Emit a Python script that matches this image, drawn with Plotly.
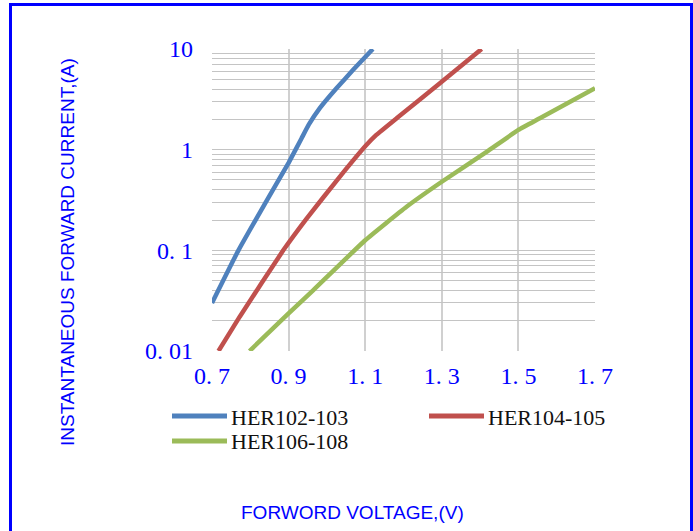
import plotly.graph_objects as go

# ---- data ----
series_names = ["HER102-103", "HER104-105", "HER106-108"]
her102_v = [0.700, 0.769, 0.838, 0.900, 0.934, 0.953, 0.981, 1.025, 1.068, 1.120]
her102_i = [0.030, 0.100, 0.290, 0.740, 1.300, 1.780, 2.570, 4.070, 6.180, 10.0]
her104_v = [0.717, 0.772, 0.886, 0.947, 1.034, 1.103, 1.129, 1.182, 1.295, 1.404]
her104_i = [0.010, 0.0218, 0.100, 0.207, 0.540, 1.110, 1.400, 2.050, 4.560, 10.0]
her106_v = [0.798, 0.900, 0.964, 1.100, 1.208, 1.300, 1.417, 1.500, 1.556, 1.700]
her106_i = [0.010, 0.0236, 0.040, 0.126, 0.271, 0.480, 0.950, 1.570, 2.050, 4.070]

x_ticks = [0.7, 0.9, 1.1, 1.3, 1.5, 1.7]
x_labels = ["0. 7", "0. 9", "1. 1", "1. 3", "1. 5", "1. 7"]
y_decades = [0.01, 0.1, 1, 10]
y_labels = ["0. 01", "0. 1", "1", "10"]
x_title = "FORWORD VOLTAGE,(V)"
y_title = "INSTANTANEOUS FORWARD CURRENT,(A)"

colors = ["#4f81bd", "#c0504d", "#9bbb59"]

# ---- layout geometry (pixels) ----
W, H = 693, 531
PL, PR, PT, PB = 212, 595, 49, 351


def fx(px):
    return (px - PL) / (PR - PL)


def fy(py):
    return (PB - py) / (PB - PT)


# all gridline positions on the log axis (1..9 per decade)
y_grid = []
y_grid_text = []
for d in y_decades[:-1]:
    for m in range(1, 10):
        y_grid.append(round(d * m, 6))
        y_grid_text.append(y_labels[y_decades.index(d)] if m == 1 else "")
y_grid.append(y_decades[-1])
y_grid_text.append(y_labels[-1])

fig = go.Figure()
for name, xs, ys, c in zip(series_names,
                           [her102_v, her104_v, her106_v],
                           [her102_i, her104_i, her106_i], colors):
    fig.add_trace(go.Scatter(x=xs, y=ys, mode="lines", name=name,
                             line=dict(color=c, width=4.5, shape="spline", smoothing=0.35),
                             showlegend=False))

SERIF = "'Liberation Serif', 'DejaVu Serif', serif"
tick_font = dict(family=SERIF, size=24, color="#0000ff")
fig.update_xaxes(range=[0.7, 1.7], tickvals=x_ticks, ticktext=x_labels,
                 showgrid=True, gridcolor="#d0d0d0", gridwidth=1.5,
                 zeroline=False, showline=False, ticks="",
                 tickfont=tick_font, ticklabelstandoff=8)
fig.update_yaxes(type="log", range=[-2, 1], tickvals=y_grid, ticktext=y_grid_text,
                 showgrid=True, gridcolor="#c4c4c4", gridwidth=1.2,
                 zeroline=False, showline=False, ticks="",
                 tickfont=tick_font, ticklabelstandoff=18)

shapes = []
annotations = []
# outer blue frame
shapes.append(dict(type="rect", xref="paper", yref="paper",
                   x0=fx(10.5), x1=fx(691.5), y0=fy(545), y1=fy(4.5),
                   line=dict(color="#0000ff", width=3), fillcolor="rgba(0,0,0,0)", layer="above"))

# manual legend
leg_pos = [(172, 227, 416), (429, 484, 416), (172, 227, 441)]
for (x0, x1, yy), name, c in zip(leg_pos, series_names, colors):
    shapes.append(dict(type="line", xref="paper", yref="paper",
                       x0=fx(x0), x1=fx(x1), y0=fy(yy), y1=fy(yy),
                       line=dict(color=c, width=5)))
    annotations.append(dict(xref="paper", yref="paper", x=fx(x1 + 2), y=fy(yy + 1),
                            text=name, showarrow=False, xanchor="left", yanchor="middle",
                            font=dict(family=SERIF, size=22, color="#111111")))

title_font = dict(family="'Liberation Sans', Arial, sans-serif", size=19, color="#0000ff")
annotations.append(dict(xref="paper", yref="paper", x=fx(352), y=fy(512),
                        text=x_title, showarrow=False, xanchor="center", yanchor="middle",
                        font=title_font))
annotations.append(dict(xref="paper", yref="paper", x=fx(67), y=fy(252),
                        text=y_title, showarrow=False, xanchor="center", yanchor="middle",
                        textangle=-90, font=title_font))

fig.update_layout(width=W, height=H,
                  margin=dict(l=PL, r=W - PR, t=PT, b=H - PB, pad=0),
                  paper_bgcolor="white", plot_bgcolor="white",
                  shapes=shapes, annotations=annotations)

fig.write_html("out.html")
